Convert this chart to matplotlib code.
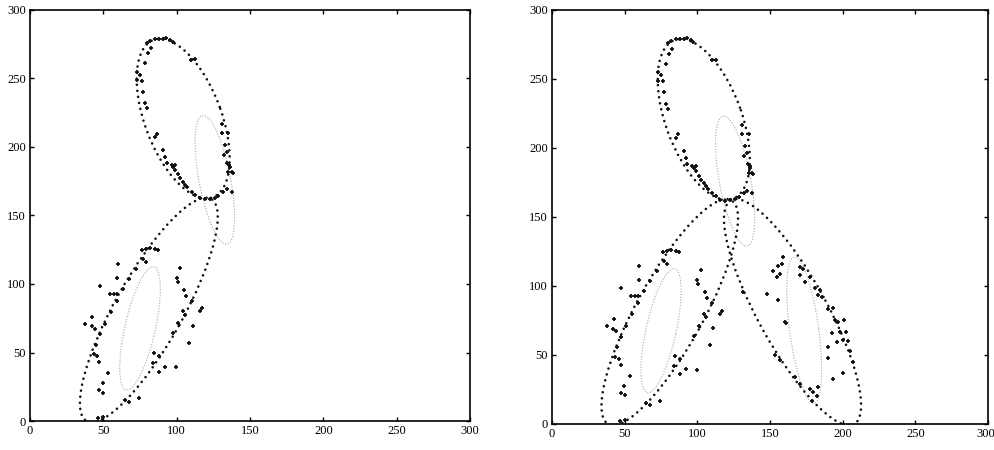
import matplotlib
matplotlib.use("Agg")
import matplotlib.pyplot as plt
import matplotlib.transforms as mtransforms
from matplotlib.patches import Ellipse

# fitted ellipses (black dotted): centre x, centre y, full width, full height, angle
fit_cx = [104.4, 81.0, 165.5]
fit_cy = [220.7, 81.0, 81.0]
fit_w = [121.8, 183.0, 183.0]
fit_h = [52.6, 47.0, 48.0]
fit_ang = [108.8, 62.6, 117.4]

# initial ellipses (light grey dotted)
init_cx = [126.0, 75.0, 173.5]
init_cy = [176.0, 67.6, 68.0]
init_w = [95.4, 91.8, 106.8]
init_h = [21.6, 20.8, 20.0]
init_ang = [100.0, 78.2, 97.3]

# data points, upper cluster
c1_x = [79.5, 82.0, 85.2, 88.0, 90.9, 93.0, 95.4, 97.3, 82.3, 80.7, 78.4, 73.2,
        75.0, 72.7, 76.1, 77.3, 78.4, 79.5, 86.4, 85.2, 90.9, 92.0, 93.2, 96.6,
        98.9, 101.1, 110.0, 112.5, 130.7, 135.2, 133.0, 134.1, 135.9, 137.5, 138.6,
        102.2, 104.5, 105.7, 107.0, 110.2, 112.5, 115.9, 119.3, 122.7, 126.1,
        128.4, 131.8, 134.1, 137.5, 135.2, 136.3, 134.5, 132.2, 130.7, 97.7, 98.8]
c1_y = [275.7, 277.5, 278.6, 279.0, 278.6, 279.5, 278.0, 276.9, 272.0, 268.4,
        261.0, 254.9, 252.5, 248.8, 248.4, 240.3, 231.8, 228.2, 209.8, 207.4,
        197.8, 193.0, 188.0, 187.0, 187.0, 180.0, 263.6, 264.0, 209.9, 210.4,
        201.4, 196.5, 186.9, 182.0, 180.8, 177.0, 174.6, 172.2, 170.6, 167.4,
        165.0, 162.5, 161.8, 162.3, 162.8, 164.2, 167.4, 169.1, 167.4, 181.9,
        185.6, 188.0, 194.0, 216.8, 185.6, 183.2]

# data points, lower left cluster
c2_x = [59.8, 59.5, 67.7, 47.7, 54.5, 57.0, 59.0, 63.2, 59.0, 55.2, 42.5, 37.5,
        42.0, 44.3, 51.1, 47.7, 45.0, 43.6, 45.9, 47.3, 53.4, 49.5, 47.3, 50.0,
        65.0, 67.7, 74.5, 84.5, 88.0, 84.0, 92.0, 88.0, 99.5, 102.2, 100.0, 100.7,
        105.0, 106.3, 110.2, 104.5, 105.7, 117.0, 115.9, 101.1, 110.9, 97.7, 108.6,
        76.1, 79.0, 82.0, 85.0, 87.5, 77.3, 79.0, 72.3, 50.0, 46.6]
c2_y = [114.6, 104.0, 103.8, 98.8, 92.5, 92.5, 93.0, 96.0, 87.6, 79.8, 76.1, 70.8,
        69.0, 67.3, 70.8, 63.3, 55.5, 48.6, 47.4, 42.8, 34.8, 27.5, 22.7, 20.7,
        15.0, 14.0, 17.0, 49.3, 47.3, 42.0, 39.6, 36.0, 39.2, 111.4, 104.0, 101.5,
        95.9, 91.0, 87.4, 80.0, 77.6, 82.2, 80.0, 71.2, 69.7, 63.9, 57.1,
        124.8, 125.5, 126.0, 125.5, 124.5, 118.0, 116.0, 111.2, 3.1, 2.0]

# data points, lower right cluster (right panel only)
c3_x = [159.2, 158.0, 155.8, 152.3, 157.0, 154.7, 170.7, 173.0, 170.7, 174.1,
        177.6, 181.0, 184.4, 183.3, 185.6, 131.7, 147.7, 155.8, 190.1, 193.1,
        194.8, 197.0, 200.9, 161.1, 192.5, 198.2, 202.3, 195.9, 200.4, 203.9,
        190.1, 205.0, 190.1, 207.3, 193.6, 200.4, 153.5, 156.9, 167.3, 170.7,
        177.6, 179.8, 183.3, 182.2, 178.8, 160.4]
c3_y = [121.0, 115.6, 114.2, 111.2, 109.0, 106.6, 113.8, 112.6, 107.6, 103.0,
        106.6, 98.2, 97.0, 93.3, 92.1, 95.6, 94.0, 89.7, 83.6, 84.1,
        75.2, 74.0, 75.2, 73.3, 66.1, 66.8, 66.8, 59.2, 61.1, 60.4,
        55.7, 52.7, 47.5, 45.2, 32.3, 36.6, 49.9, 46.3, 34.0, 29.2,
        25.4, 22.9, 26.5, 20.1, 16.5, 74.0]

ticks = [0, 50, 100, 150, 200, 250, 300]

plt.rcParams['font.family'] = ['Liberation Serif', 'DejaVu Serif']

fig = plt.figure(figsize=(9.95, 4.5), dpi=100)
ax_l = fig.add_axes([0.0302, 0.0644, 0.4422, 0.9136])
ax_r = fig.add_axes([0.5548, 0.0578, 0.4382, 0.9202])


def draw_panel(ax, n_ell, px, py):
    for i in range(n_ell):
        g = Ellipse((init_cx[i], init_cy[i]), init_w[i], init_h[i], angle=init_ang[i],
                    fill=False, edgecolor='#a8a8a8', lw=0.8, linestyle=(0, (1, 1.5)))
        ax.add_patch(g)
        e = Ellipse((fit_cx[i], fit_cy[i]), fit_w[i], fit_h[i], angle=fit_ang[i],
                    fill=False, edgecolor='#111111', lw=1.9, linestyle=(0, (0.01, 2.3)))
        e.set_capstyle('round')
        ax.add_patch(e)
    ax.plot(px, py, '+', color='#111111', ms=3.5, mew=1.3, ls='none')
    ax.set_xlim(0, 300)
    ax.set_ylim(0, 300)
    ax.set_xticks(ticks)
    ax.set_yticks(ticks)
    ax.tick_params(direction='in', top=True, right=True, length=3, width=1,
                   labelsize=9, pad=3)
    for s in ax.spines.values():
        s.set_linewidth(1.2)


draw_panel(ax_l, 2, c1_x + c2_x, c1_y + c2_y)
draw_panel(ax_r, 3, c1_x + c2_x + c3_x, c1_y + c2_y + c3_y)

# keep the last x label of the right panel inside the figure
fig.canvas.draw()
last = ax_r.get_xticklabels()[-1]
last.set_horizontalalignment('right')
last.set_transform(last.get_transform() +
                   mtransforms.ScaledTranslation(7 / 100, 0, fig.dpi_scale_trans))

fig.savefig('out.png', dpi=100)
